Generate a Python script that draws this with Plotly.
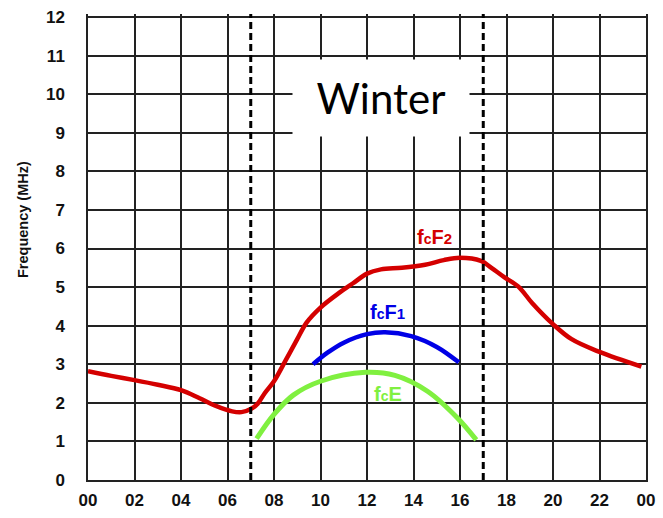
import plotly.graph_objects as go

# ---- data ----
f2_hours = [0, 1, 2, 3, 4, 4.8, 5.5, 6.2, 6.6, 7.0, 7.3, 7.6, 8.0, 8.5, 9.0, 9.4, 10.0, 10.8,
            11.4, 12.0, 12.6, 13.5, 14.5, 15.3, 16.0, 16.9, 17.35, 17.9, 18.5, 19.1, 20.0,
            20.8, 22.0, 23.8]
f2_values = [2.82, 2.70, 2.59, 2.47, 2.33, 2.12, 1.92, 1.78, 1.76, 1.84, 1.98, 2.25, 2.56, 3.1,
             3.65, 4.08, 4.47, 4.85, 5.1, 5.35, 5.46, 5.5, 5.58, 5.7, 5.76, 5.68, 5.5, 5.26,
             5.02, 4.59, 4.04, 3.65, 3.32, 2.94]

f1_hours = [9.68, 10.3, 11.0, 12.0, 12.78, 13.9, 15.0, 15.95]
f1_values = [3.0, 3.3, 3.56, 3.78, 3.83, 3.73, 3.45, 3.05]

fe_hours = [7.25, 8.0, 8.83, 10.0, 11.93, 13.2, 14.6, 15.87, 16.7]
fe_values = [1.07, 1.7, 2.2, 2.56, 2.79, 2.71, 2.3, 1.62, 1.04]

day_bounds = [7, 17]  # sunrise / sunset (hours)

x_tick_vals = [0, 2, 4, 6, 8, 10, 12, 14, 16, 18, 20, 22, 24]
x_tick_text = ["00", "02", "04", "06", "08", "10", "12", "14", "16", "18", "20", "22", "00"]
y_tick_vals = list(range(0, 13))
y_tick_text = [str(v) for v in y_tick_vals]

season = "Winter"
y_title = "Frequency (MHz)"

RED = "#d40000"
BLUE = "#0000e6"
GREEN = "#80f040"

fig = go.Figure()
fig.add_trace(go.Scatter(x=f2_hours, y=f2_values, mode="lines",
                         line=dict(color=RED, width=4.5, shape="spline", smoothing=1.0),
                         hoverinfo="skip"))
fig.add_trace(go.Scatter(x=f1_hours, y=f1_values, mode="lines",
                         line=dict(color=BLUE, width=4.5, shape="spline", smoothing=1.0),
                         hoverinfo="skip"))
fig.add_trace(go.Scatter(x=fe_hours, y=fe_values, mode="lines",
                         line=dict(color=GREEN, width=5, shape="spline", smoothing=1.0),
                         hoverinfo="skip"))

for xb in day_bounds:
    fig.add_shape(type="line", xref="x", yref="paper", x0=xb, x1=xb, y0=0, y1=1,
                  line=dict(color="black", width=3, dash="7px,4px"), layer="above")

tick_font = dict(family="Liberation Sans, Arial", size=17, color="#111", weight="bold")

fig.update_layout(
    width=663, height=518,
    margin=dict(l=88, r=8, t=8, b=34),
    paper_bgcolor="white", plot_bgcolor="white",
    showlegend=False,
    xaxis=dict(range=[0, 24], tickvals=x_tick_vals, ticktext=x_tick_text,
               showgrid=True, gridcolor="#222", gridwidth=1.5,
               showline=True, linecolor="#222", linewidth=1.5, mirror=False,
               zeroline=False, ticks="", tickfont=tick_font, ticklabelstandoff=4,
               fixedrange=True),
    yaxis=dict(range=[0, 12.08], tickvals=y_tick_vals, ticktext=y_tick_text,
               showgrid=True, gridcolor="#222", gridwidth=1.5,
               showline=True, linecolor="#222", linewidth=1.5, mirror=True,
               zeroline=False, ticks="", tickfont=tick_font, ticklabelstandoff=18,
               fixedrange=True),
    font=dict(family="Liberation Sans, Arial"),
)

fig.add_annotation(xref="paper", yref="paper", x=-66 / 567, y=0.558,
                   text="<b>" + y_title + "</b>", textangle=-90, showarrow=False,
                   font=dict(family="Liberation Sans, Arial", size=14.5, color="#111"),
                   xanchor="center", yanchor="middle")

fig.add_annotation(x=12.6, y=9.9, text=season, showarrow=False,
                   font=dict(family="Lato, Open Sans", size=42, color="black"),
                   bgcolor="white", width=176, height=76, borderpad=0,
                   xanchor="center", yanchor="middle")


def lbl(main, sub2=""):
    s = "<b>f<span style='font-size:14px'>c</span>" + main
    if sub2:
        s += "<span style='font-size:15px'>" + sub2 + "</span>"
    return s + "</b>"


lbl_font = dict(family="Liberation Sans, Arial", size=20)
fig.add_annotation(x=14.9, y=6.29, text=lbl("F", "2"), showarrow=False,
                   font=dict(lbl_font, color=RED))
fig.add_annotation(x=12.87, y=4.35, text=lbl("F", "1"), showarrow=False,
                   font=dict(lbl_font, color=BLUE))
fig.add_annotation(x=12.9, y=2.24, text=lbl("E"), showarrow=False,
                   font=dict(lbl_font, color=GREEN))

fig.write_html("out.html")
